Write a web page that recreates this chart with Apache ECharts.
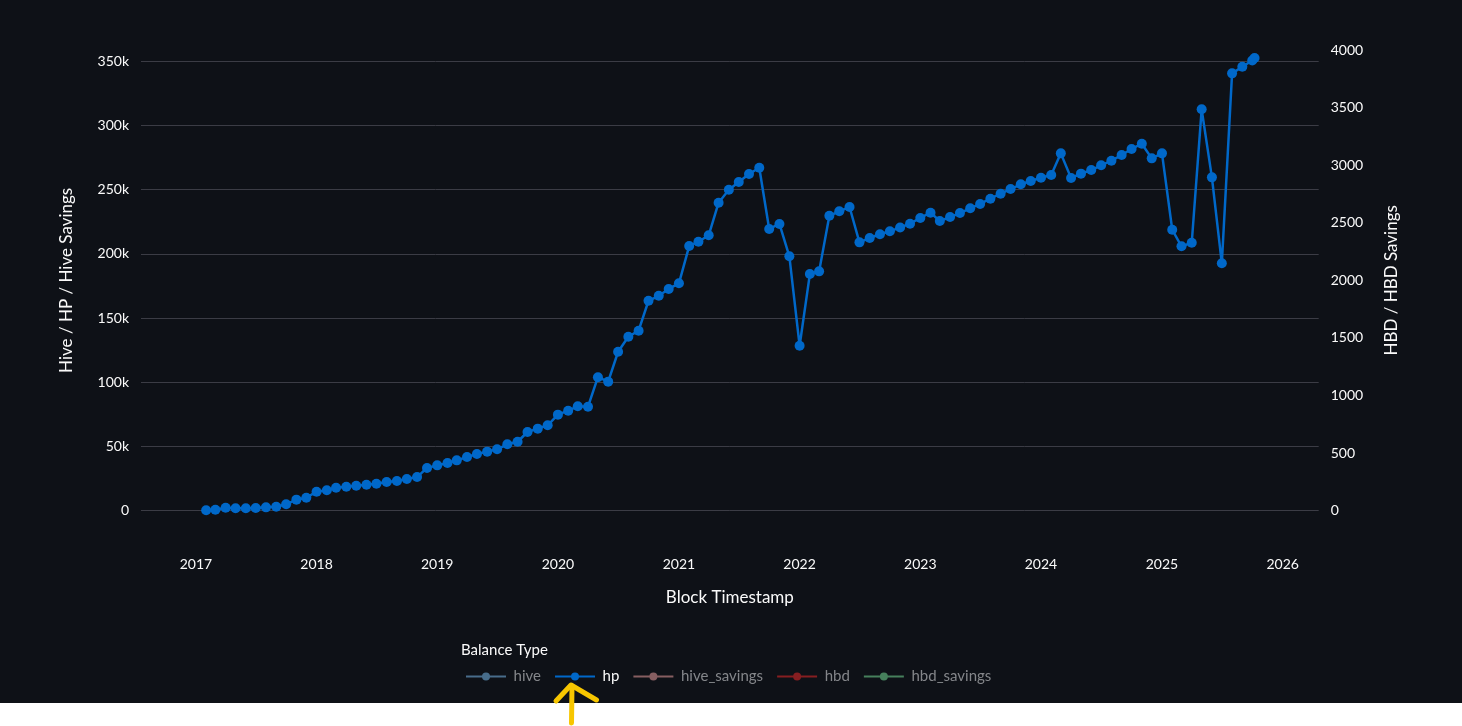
<!DOCTYPE html>
<html>
<head>
<meta charset="utf-8">
<script src="https://cdn.jsdelivr.net/npm/echarts@6/dist/echarts.min.js"></script>
<style>
  html, body { margin: 0; padding: 0; background: #ffffff; }
  #chart { width: 1462px; height: 726px; }
</style>
</head>
<body>
<div id="chart"></div>
<script>
// ---- data ----
const dates = [
  '2017-02-01','2017-03-01','2017-04-01','2017-05-01','2017-06-01','2017-07-01','2017-08-01','2017-09-01','2017-10-01','2017-11-01','2017-12-01',
  '2018-01-01','2018-02-01','2018-03-01','2018-04-01','2018-05-01','2018-06-01','2018-07-01','2018-08-01','2018-09-01','2018-10-01','2018-11-01','2018-12-01',
  '2019-01-01','2019-02-01','2019-03-01','2019-04-01','2019-05-01','2019-06-01','2019-07-01','2019-08-01','2019-09-01','2019-10-01','2019-11-01','2019-12-01',
  '2020-01-01','2020-02-01','2020-03-01','2020-04-01','2020-05-01','2020-06-01','2020-07-01','2020-08-01','2020-09-01','2020-10-01','2020-11-01','2020-12-01',
  '2021-01-01','2021-02-01','2021-03-01','2021-04-01','2021-05-01','2021-06-01','2021-07-01','2021-08-01','2021-09-01','2021-10-01','2021-11-01','2021-12-01',
  '2022-01-01','2022-02-01','2022-03-01','2022-04-01','2022-05-01','2022-06-01','2022-07-01','2022-08-01','2022-09-01','2022-10-01','2022-11-01','2022-12-01',
  '2023-01-01','2023-02-01','2023-03-01','2023-04-01','2023-05-01','2023-06-01','2023-07-01','2023-08-01','2023-09-01','2023-10-01','2023-11-01','2023-12-01',
  '2024-01-01','2024-02-01','2024-03-01','2024-04-01','2024-05-01','2024-06-01','2024-07-01','2024-08-01','2024-09-01','2024-10-01','2024-11-01','2024-12-01',
  '2025-01-01','2025-02-01','2025-03-01','2025-04-01','2025-05-01','2025-06-01','2025-07-01','2025-08-01','2025-09-01','2025-10-01','2025-10-08'
];
const hpValues = [
  300, 800, 2300, 1900, 1900, 2100, 2600, 3100, 5000, 8600, 10100,
  14800, 15900, 17900, 18700, 19500, 20200, 21000, 22400, 23100, 24700, 26200, 33300,
  35300, 37100, 39200, 41800, 44200, 46000, 47800, 51700, 53700, 61300, 63900, 66500,
  74800, 77900, 81300, 81000, 104000, 100500, 123800, 135500, 140200, 163500, 167400, 172700,
  177100, 206100, 209500, 214500, 239900, 250000, 256000, 262200, 267100, 219400, 223300, 198100,
  128500, 184300, 186400, 229700, 233200, 236500, 209000, 212400, 215300, 217600, 220600, 223500,
  228000, 232100, 225600, 228700, 231800, 235500, 238900, 243000, 246900, 250500, 254200, 256800,
  259300, 261400, 278300, 259100, 262500, 265300, 269000, 272600, 277000, 281700, 285800, 274400,
  278300, 218800, 205900, 208700, 312600, 259600, 192700, 340600, 345800, 350600, 352500
];
// hidden (legend-only) series: their values are not visible in the picture
const hiveValues = [];
const hiveSavingsValues = [];
const hbdValues = [];
const hbdSavingsValues = [];

const xTickYears = [2017, 2018, 2019, 2020, 2021, 2022, 2023, 2024, 2025, 2026];
const xRange = ['2016-07-19', '2026-04-20'];
const leftMax = 358800;
const rightMax = 4000;

// ---- chart ----
const FONT = 'Lato, "Open Sans", sans-serif';
const TXT = '#fafafa';
const DIM = '#84868a';
const toTs = s => { const p = s.split('-').map(Number); return Date.UTC(p[0], p[1] - 1, p[2]); };
const pair = (xs, ys) => xs.map((d, i) => [toTs(d), ys[i]]);

const chart = echarts.init(document.getElementById('chart'), null, { renderer: 'canvas' });
chart.setOption({
  animation: false,
  backgroundColor: '#0e1117',
  textStyle: { fontFamily: FONT },
  title: {
    text: 'Balance Type', left: 461, top: 643, padding: 0,
    textStyle: { color: TXT, fontSize: 15, fontWeight: 'normal', fontFamily: FONT }
  },
  legend: {
    left: 465, top: 669, padding: 0, itemWidth: 40, itemHeight: 10, itemGap: 13,
    textStyle: { fontSize: 15, fontFamily: FONT, padding: [0, 0, 0, 2.6] },
    selectedMode: false,
    data: [
      { name: 'hive', textStyle: { color: DIM } },
      { name: 'hp', textStyle: { color: TXT } },
      { name: 'hive_savings', textStyle: { color: DIM } },
      { name: 'hbd', textStyle: { color: DIM } },
      { name: 'hbd_savings', textStyle: { color: DIM } }
    ]
  },
  grid: { left: 141, right: 143.3, top: 50, bottom: 215.3 },
  xAxis: {
    type: 'value',
    min: toTs(xRange[0]), max: toTs(xRange[1]),
    name: 'Block Timestamp', nameLocation: 'middle', nameGap: 78,
    nameTextStyle: { color: TXT, fontSize: 17, fontFamily: FONT },
    axisLine: { show: false }, axisTick: { show: false }, splitLine: { show: false },
    axisLabel: {
      color: TXT, fontSize: 14, fontFamily: FONT, margin: 47,
      customValues: xTickYears.map(y => Date.UTC(y, 0, 1)),
      formatter: v => String(new Date(v).getUTCFullYear())
    }
  },
  yAxis: [
    {
      type: 'value', position: 'left', min: 0, max: leftMax, interval: 50000,
      name: 'Hive / HP / Hive Savings', nameLocation: 'middle', nameGap: 66,
      nameTextStyle: { color: TXT, fontSize: 17, fontFamily: FONT },
      axisLine: { show: false }, axisTick: { show: false },
      splitLine: { show: true, showMaxLine: false, lineStyle: { color: '#3b3c45', width: 1 } },
      axisLabel: {
        color: TXT, fontSize: 14, fontFamily: FONT, margin: 12, showMaxLabel: false,
        formatter: v => v === 0 ? '0' : (v / 1000) + 'k'
      }
    },
    {
      type: 'value', position: 'right', min: 0, max: rightMax, interval: 500,
      name: 'HBD / HBD Savings', nameLocation: 'middle', nameGap: 64,
      nameTextStyle: { color: TXT, fontSize: 17, fontFamily: FONT },
      axisLine: { show: false }, axisTick: { show: false }, splitLine: { show: false },
      axisLabel: { color: TXT, fontSize: 14, fontFamily: FONT, margin: 12, formatter: v => String(v) }
    }
  ],
  series: [
    { name: 'hive', type: 'line', yAxisIndex: 0, data: pair([], hiveValues), color: '#486d8b',
      symbol: 'circle', symbolSize: 10, lineStyle: { width: 2.5 } },
    { name: 'hp', type: 'line', yAxisIndex: 0, data: pair(dates, hpValues), color: '#0068c9',
      symbol: 'circle', symbolSize: 10, showAllSymbol: true, lineStyle: { width: 2.5 } },
    { name: 'hive_savings', type: 'line', yAxisIndex: 0, data: pair([], hiveSavingsValues), color: '#865e61',
      symbol: 'circle', symbolSize: 10, lineStyle: { width: 2.5 } },
    { name: 'hbd', type: 'line', yAxisIndex: 1, data: pair([], hbdValues), color: '#861e21',
      symbol: 'circle', symbolSize: 10, lineStyle: { width: 2.5 } },
    { name: 'hbd_savings', type: 'line', yAxisIndex: 1, data: pair([], hbdSavingsValues), color: '#46805c',
      symbol: 'circle', symbolSize: 10, lineStyle: { width: 2.5 } }
  ],
  graphic: [
    { type: 'rect', left: 0, top: 703, shape: { width: 1462, height: 23 }, style: { fill: '#ffffff' }, z: 100 },
    { type: 'polyline', z: 101, shape: { points: [[571.5, 723], [572, 686]] },
      style: { stroke: '#f7c600', lineWidth: 5, lineCap: 'round', lineJoin: 'round', fill: null } },
    { type: 'polyline', z: 101, shape: { points: [[556, 701], [571, 685], [596.5, 700]] },
      style: { stroke: '#f7c600', lineWidth: 5, lineCap: 'round', lineJoin: 'round', fill: null } }
  ]
});
</script>
</body>
</html>
